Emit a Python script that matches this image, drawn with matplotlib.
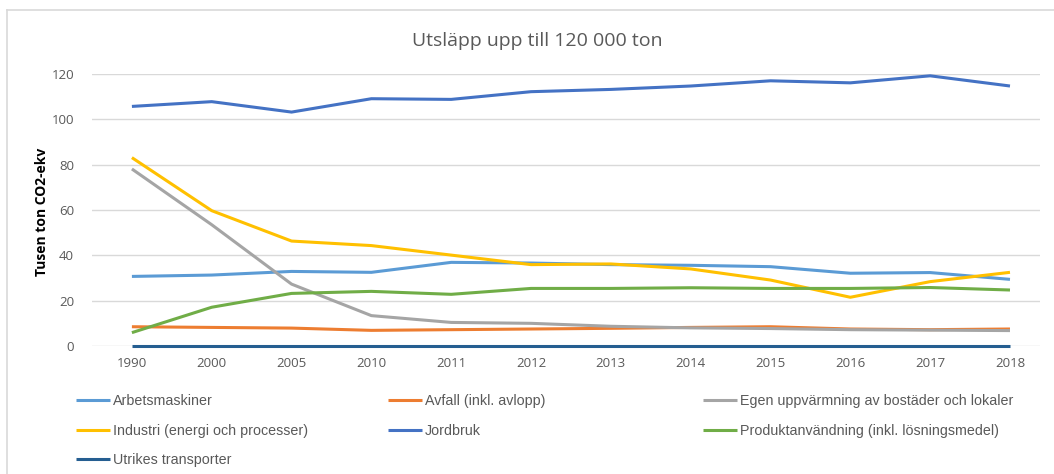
import matplotlib
matplotlib.use("Agg")
import matplotlib.pyplot as plt
from matplotlib.lines import Line2D

# Kategorier (år)
years = ["1990", "2000", "2005", "2010", "2011", "2012", "2013", "2014",
         "2015", "2016", "2017", "2018"]

# Serier, tusen ton CO2-ekv
arbetsmaskiner = [30.7, 31.3, 32.9, 32.5, 36.9, 36.6, 35.9, 35.6, 35.0, 32.1, 32.4, 29.4]
avfall = [8.5, 8.2, 7.9, 6.9, 7.2, 7.5, 7.8, 8.2, 8.5, 7.5, 7.2, 7.5]
egen_uppvarmning = [78.1, 53.5, 27.3, 13.4, 10.4, 10.0, 8.7, 8.0, 7.7, 7.2, 7.0, 6.8]
industri = [83.1, 59.7, 46.3, 44.3, 40.1, 35.9, 36.2, 34.0, 29.1, 21.5, 28.4, 32.5]
jordbruk = [105.7, 107.8, 103.2, 109.1, 108.8, 112.2, 113.2, 114.7, 117.0, 116.1, 119.2, 114.7]
produktanvandning = [5.9, 17.1, 23.2, 24.1, 22.8, 25.4, 25.4, 25.7, 25.4, 25.4, 25.8, 24.7]
utrikes_transporter = [0, 0, 0, 0, 0, 0, 0, 0, 0, 0, 0, 0]

series = [
    ("Arbetsmaskiner", arbetsmaskiner, "#5B9BD5"),
    ("Avfall (inkl. avlopp)", avfall, "#ED7D31"),
    ("Egen uppvärmning av bostäder och lokaler", egen_uppvarmning, "#A5A5A5"),
    ("Industri (energi och processer)", industri, "#FFC000"),
    ("Jordbruk", jordbruk, "#4472C4"),
    ("Produktanvändning (inkl. lösningsmedel)", produktanvandning, "#70AD47"),
    ("Utrikes transporter", utrikes_transporter, "#255E91"),
]

grey = "#595959"
W, H = 1054, 474
fig = plt.figure(figsize=(W / 100, H / 100), dpi=100)
ax = fig.add_axes([92 / W, 1 - 346 / H, (1040 - 92) / W, (346 - 74) / H])

xs = list(range(len(years)))
lines = {}
for name, vals, col in series:
    ln, = ax.plot(xs, vals, color=col, lw=2.2, solid_capstyle="butt", clip_on=False)
    lines[name] = ln

ax.set_xlim(-0.5, 11.376)
ax.set_ylim(0, 120)
ax.set_yticks(range(0, 121, 20))
ax.set_xticks(xs)
ax.set_xticklabels(years)
ax.grid(axis="y", color="#D9D9D9", lw=1)
ax.set_axisbelow(True)
for s in ax.spines.values():
    s.set_visible(False)
ax.tick_params(length=0, labelsize=9.5, labelcolor=grey, pad=8)
for lbl in ax.get_xticklabels() + ax.get_yticklabels():
    lbl.set_family("Open Sans")
ax.tick_params(axis="y", pad=13)

fig.text(42 / W, 1 - 212 / H, "Tusen ton CO2-ekv", rotation=90, ha="center",
         va="center", fontsize=10, fontweight="bold", family="Open Sans")
fig.text(537 / W, 1 - 41 / H, "Utsläpp upp till 120 000 ton", ha="center",
         va="center", fontsize=14, color=grey, family="Open Sans")

# Legend i tre kolumner
columns = [
    (76, ["Arbetsmaskiner", "Industri (energi och processer)", "Utrikes transporter"]),
    (388, ["Avfall (inkl. avlopp)", "Jordbruk"]),
    (703, ["Egen uppvärmning av bostäder och lokaler", "Produktanvändning (inkl. lösningsmedel)"]),
]
for x0, names in columns:
    leg = fig.legend([lines[n] for n in names], names, loc="upper left",
                     bbox_to_anchor=(x0 / W, 1 - 394 / H), frameon=False,
                     borderpad=0, borderaxespad=0, handlelength=2.4,
                     handletextpad=0.2, labelspacing=1.1,
                     prop={"family": "Liberation Sans", "size": 10.3})
    for t in leg.get_texts():
        t.set_color(grey)

# ram runt diagrammet
fig.add_artist(Line2D([6.5 / W, 1], [1 - 9.5 / H] * 2, color="#D9D9D9", lw=1.2,
                      transform=fig.transFigure))
fig.add_artist(Line2D([6.5 / W] * 2, [0, 1 - 9.5 / H], color="#D9D9D9", lw=1.2,
                      transform=fig.transFigure))

fig.savefig("out.png", dpi=100)
